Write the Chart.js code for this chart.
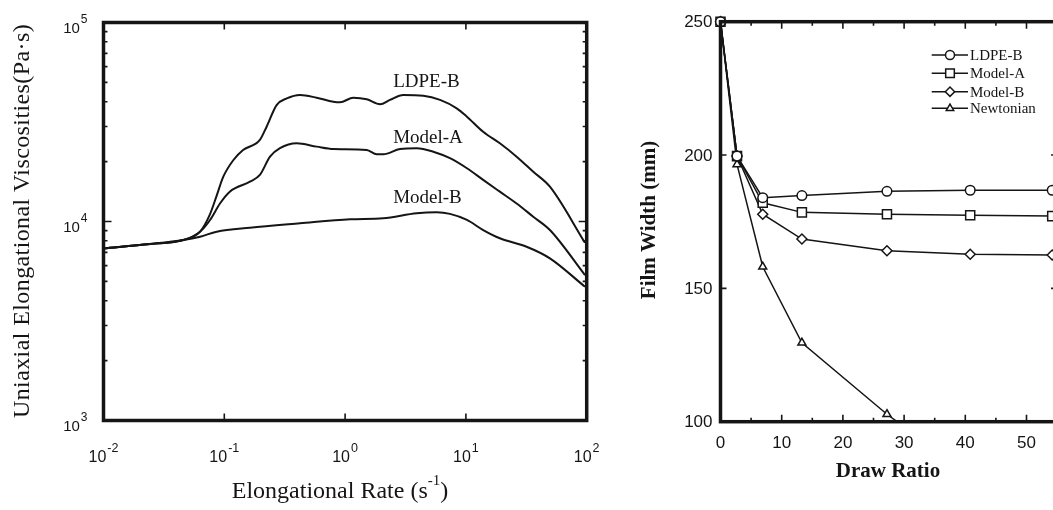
<!DOCTYPE html>
<html>
<head>
<meta charset="utf-8">
<script src="https://cdn.jsdelivr.net/npm/chart.js@4.4.1/dist/chart.umd.min.js"></script>
<style>
  html, body { margin: 0; width: 1053px; height: 510px; overflow: hidden; background: #fff; }
  canvas { position: absolute; top: 0; }
  #viscChart { left: 0; }
  #widthChart { left: 620px; }
</style>
</head>
<body>
<canvas id="viscChart" width="620" height="510"></canvas>
<canvas id="widthChart" width="450" height="510"></canvas>
<script>
// left panel: uniaxial elongational viscosity vs elongational rate (log-log)
const ldpeRate  = [0.01, 0.0243, 0.0458, 0.063, 0.0762, 0.0865, 0.0981, 0.119, 0.143, 0.197, 0.224, 0.271, 0.329, 0.423, 0.582, 0.799, 0.908, 1.17, 1.51, 1.95, 2.35, 3.03, 4.44, 6.11, 8.39, 10.2, 13.9, 19.1, 26.3, 36.1, 49.6, 96.8]
const ldpeVisc  = [7330, 7710, 8070, 8890, 10900, 13500, 16790, 20370, 22860, 25700, 29950, 38450, 41560, 43250, 41880, 39970, 39720, 41880, 41120, 38810, 40830, 43250, 42860, 40830, 37050, 33650, 28250, 24720, 21180, 17790, 14960, 7820]
const modelARate = [0.01, 0.0243, 0.0458, 0.063, 0.0762, 0.0921, 0.111, 0.163, 0.197, 0.239, 0.289, 0.397, 0.582, 0.799, 1.51, 1.83, 2.07, 2.85, 3.92, 5.37, 7.38, 10.2, 13.9, 19.1, 26.3, 36.1, 49.6, 96.8]
const modelAVisc = [7330, 7710, 8070, 8890, 10180, 12320, 14120, 15850, 17130, 21180, 23350, 24730, 23780, 23140, 22860, 21770, 21770, 23140, 23350, 22430, 20800, 18510, 16180, 14120, 12320, 10570, 9060, 5380]
const modelBRate = [0.01, 0.0243, 0.0458, 0.063, 0.0865, 0.163, 0.423, 1.10, 2.07, 3.92, 5.73, 7.38, 10.2, 13.9, 19.1, 31.8, 49.6, 96.8]
const modelBVisc = [7330, 7710, 8070, 8390, 8890, 9310, 9790, 10250, 10380, 11000, 11120, 10920, 10180, 9060, 8240, 7470, 6530, 4700]
const rateExponents = [-2, -1, 0, 1, 2]
const viscExponents = [3, 4, 5]
const curveNames = ['LDPE-B', 'Model-A', 'Model-B']
const curveNameAt = [[2.5, 50200], [2.5, 26300], [2.5, 13100]]

// right panel: film width vs draw ratio
const drawRatio = [0, 2.7, 6.9, 13.3, 27.2, 40.8, 54.2]
const ldpeWidth = [250, 199.6, 184.0, 184.8, 186.4, 186.8, 186.8]
const modelAWidth = [250, 199.6, 182.1, 178.5, 177.8, 177.4, 177.1]
const modelBWidth = [250, 199.6, 177.8, 168.5, 164.1, 162.8, 162.5]
const newtonianRatio = [0, 2.7, 6.9, 13.3, 27.2, 40.8]
const newtonianWidth = [250, 196.5, 158.1, 129.6, 102.8, 80]
const ratioTicks = [0, 10, 20, 30, 40, 50]
const widthTicks = [100, 150, 200, 250]

const ink = '#151515'
const serif = '"Liberation Serif", "Times New Roman", serif'
const sans = '"Liberation Sans", Arial, sans-serif'

const zip = (xs, ys) => xs.map((x, i) => ({ x, y: ys[i] }))

// "10" with a raised exponent
function powLabel(ctx, x, y, exp, size, supSize, align) {
  ctx.font = size + 'px ' + sans
  const wb = ctx.measureText('10').width
  ctx.font = supSize + 'px ' + sans
  const we = ctx.measureText(exp).width
  const total = wb + we + 1
  const start = align === 'right' ? x - total : x - total / 2
  ctx.textAlign = 'left'
  ctx.textBaseline = 'alphabetic'
  ctx.font = size + 'px ' + sans
  ctx.fillText('10', start, y)
  ctx.font = supSize + 'px ' + sans
  ctx.fillText(exp, start + wb + 1, y - 10)
}

const hiddenAxis = { display: true, grid: { display: false, drawTicks: false }, border: { display: false }, ticks: { display: false } }

const viscDecor = {
  id: 'viscDecor',
  afterDatasetsDraw(chart) {
    const { ctx, chartArea: a, scales: { x, y } } = chart
    ctx.save()
    ctx.strokeStyle = ink
    ctx.fillStyle = ink
    ctx.lineWidth = 1.6
    ctx.beginPath()
    rateExponents.forEach(e => {
      const px = x.getPixelForValue(Math.pow(10, e))
      ctx.moveTo(px, a.bottom); ctx.lineTo(px, a.bottom - 7)
      ctx.moveTo(px, a.top); ctx.lineTo(px, a.top + 7)
    })
    const lastExp = viscExponents[viscExponents.length - 1]
    for (let e = viscExponents[0]; e < lastExp; e++) {
      for (let m = 1; m < 10; m++) {
        const py = y.getPixelForValue(m * Math.pow(10, e))
        const len = m === 1 ? 8 : 4
        ctx.moveTo(a.left, py); ctx.lineTo(a.left + len, py)
        ctx.moveTo(a.right, py); ctx.lineTo(a.right - len, py)
      }
    }
    ctx.stroke()
    ctx.lineWidth = 3.5
    ctx.strokeRect(a.left, a.top, a.right - a.left, a.bottom - a.top)

    rateExponents.forEach(e => {
      powLabel(ctx, x.getPixelForValue(Math.pow(10, e)), 462, String(e), 16, 12.5, 'center')
    })
    viscExponents.forEach(e => {
      powLabel(ctx, a.left - 16, y.getPixelForValue(Math.pow(10, e)) + 10.5, String(e), 15, 12, 'right')
    })

    ctx.font = '19px ' + serif
    ctx.textAlign = 'left'
    ctx.textBaseline = 'middle'
    curveNames.forEach((name, i) => {
      const [vx, vy] = curveNameAt[i]
      ctx.fillText(name, x.getPixelForValue(vx), y.getPixelForValue(vy))
    })

    // axis titles
    ctx.save()
    ctx.translate(23, 221)
    ctx.rotate(-Math.PI / 2)
    ctx.font = '24px ' + serif
    ctx.letterSpacing = '0.4px'
    ctx.textAlign = 'center'
    ctx.fillText('Uniaxial Elongational Viscosities(Pa\u00b7s)', 0, 0)
    ctx.restore()

    const main = 'Elongational Rate (s', sup = '-1', tail = ')'
    ctx.textBaseline = 'alphabetic'
    ctx.font = '24px ' + serif
    const w1 = ctx.measureText(main).width, w3 = ctx.measureText(tail).width
    ctx.font = '15px ' + serif
    const w2 = ctx.measureText(sup).width
    const sx = 340 - (w1 + w2 + w3) / 2
    ctx.font = '24px ' + serif
    ctx.fillText(main, sx, 498)
    ctx.font = '15px ' + serif
    ctx.fillText(sup, sx + w1, 485)
    ctx.font = '24px ' + serif
    ctx.fillText(tail, sx + w1 + w2, 498)
    ctx.restore()
  }
}

const curve = (label, xs, ys) => ({
  label,
  data: zip(xs, ys),
  showLine: true,
  borderColor: ink,
  borderWidth: 2,
  pointRadius: 0,
  cubicInterpolationMode: 'monotone'
})

new Chart(document.getElementById('viscChart'), {
  type: 'scatter',
  data: {
    datasets: [
      curve('LDPE-B', ldpeRate, ldpeVisc),
      curve('Model-A', modelARate, modelAVisc),
      curve('Model-B', modelBRate, modelBVisc)
    ]
  },
  options: {
    responsive: false,
    animation: false,
    layout: { padding: { left: 103.5, top: 22.5, right: 33.3, bottom: 89.5 } },
    plugins: { legend: { display: false }, tooltip: { enabled: false } },
    scales: {
      x: { ...hiddenAxis, type: 'logarithmic', min: 0.01, max: 100 },
      y: { ...hiddenAxis, type: 'logarithmic', min: 1000, max: 100000 }
    }
  },
  plugins: [viscDecor]
})

const series = (label, xs, ys, pointStyle, radius) => ({
  label,
  data: zip(xs, ys),
  showLine: true,
  borderColor: ink,
  borderWidth: 1.5,
  pointStyle,
  pointRadius: radius,
  pointBackgroundColor: '#fff',
  pointBorderColor: ink,
  pointBorderWidth: 1.5,
  clip: { left: 10, top: 10, right: 10, bottom: 1 }
})

const widthDecor = {
  id: 'widthDecor',
  afterDatasetsDraw(chart) {
    const { ctx, chartArea: a, scales: { x, y } } = chart
    ctx.save()
    ctx.strokeStyle = ink
    ctx.fillStyle = ink
    ctx.lineWidth = 1.6
    ctx.beginPath()
    for (let v = x.min; v <= x.max; v += 5) {
      const px = x.getPixelForValue(v)
      const len = v % 10 === 0 ? 7 : 4
      ctx.moveTo(px, a.bottom); ctx.lineTo(px, a.bottom - len)
      ctx.moveTo(px, a.top); ctx.lineTo(px, a.top + len)
    }
    widthTicks.forEach(v => {
      const py = y.getPixelForValue(v)
      ctx.moveTo(a.left, py); ctx.lineTo(a.left + 6, py)
      ctx.moveTo(a.right, py); ctx.lineTo(a.right - 6, py)
    })
    ctx.stroke()
    ctx.lineWidth = 3.5
    ctx.strokeRect(a.left, a.top, a.right - a.left, a.bottom - a.top)

    ctx.font = '17px ' + sans
    ctx.textBaseline = 'middle'
    ctx.textAlign = 'center'
    ratioTicks.forEach(v => ctx.fillText(String(v), x.getPixelForValue(v), 443))
    ctx.textAlign = 'right'
    widthTicks.forEach(v => ctx.fillText(String(v), a.left - 8, y.getPixelForValue(v) + 1))

    ctx.font = 'bold 21px ' + serif
    ctx.textAlign = 'center'
    ctx.textBaseline = 'alphabetic'
    ctx.fillText('Draw Ratio', 268, 477)
    ctx.save()
    ctx.translate(35, 220)
    ctx.rotate(-Math.PI / 2)
    ctx.fillText('Film Width (mm)', 0, 0)
    ctx.restore()

    // legend: line with marker through it
    ctx.font = '15px ' + serif
    ctx.textAlign = 'left'
    ctx.textBaseline = 'middle'
    const rowY = [55, 73.3, 91.7, 108.3]
    chart.data.datasets.forEach((ds, i) => {
      const ly = rowY[i]
      ctx.lineWidth = 1.5
      ctx.beginPath()
      ctx.moveTo(311.7, ly); ctx.lineTo(348, ly)
      ctx.stroke()
      ctx.fillStyle = '#fff'
      Chart.helpers.drawPoint(ctx, { pointStyle: ds.pointStyle, radius: ds.pointRadius - 0.3, rotation: 0, borderWidth: 1.5 }, 330, ly)
      ctx.fillStyle = ink
      ctx.fillText(ds.label, 350, ly + 1)
    })
    ctx.restore()
  }
}

new Chart(document.getElementById('widthChart'), {
  type: 'scatter',
  data: {
    datasets: [
      series('LDPE-B', drawRatio, ldpeWidth, 'circle', 4.8),
      series('Model-A', drawRatio, modelAWidth, 'rect', 6.4),
      series('Model-B', drawRatio, modelBWidth, 'rectRot', 5),
      series('Newtonian', newtonianRatio, newtonianWidth, 'triangle', 4.6)
    ]
  },
  options: {
    responsive: false,
    animation: false,
    layout: { padding: { left: 100.5, top: 21.7, right: 12.9, bottom: 88.3 } },
    plugins: { legend: { display: false }, tooltip: { enabled: false } },
    scales: {
      x: { ...hiddenAxis, type: 'linear', min: 0, max: 55 },
      y: { ...hiddenAxis, type: 'linear', min: 100, max: 250 }
    }
  },
  plugins: [widthDecor]
})
</script>
</body>
</html>
